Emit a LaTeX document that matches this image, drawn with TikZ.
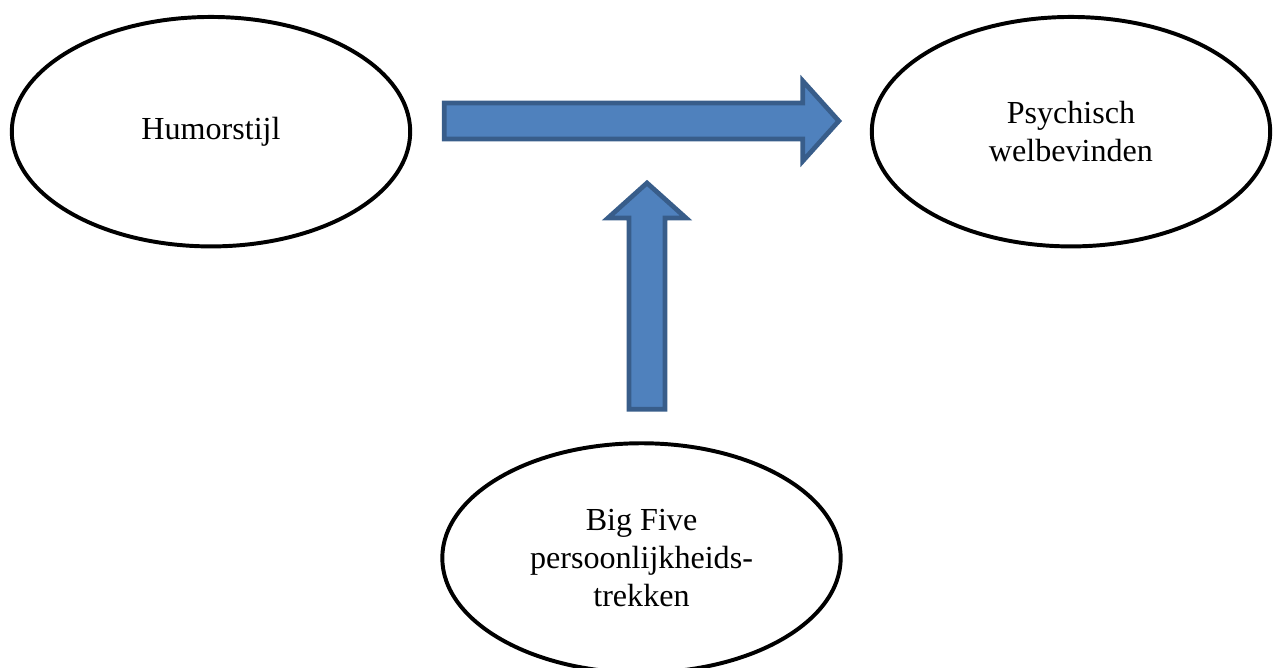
\documentclass[tikz,border=0pt]{standalone}
\usepackage{fontspec}
\setmainfont{Liberation Serif}
\usetikzlibrary{shapes.geometric,calc}

\begin{document}
\begin{tikzpicture}[x=0.38pt,y=-0.38pt,
        factor/.style={
        draw=black, line width=1.5pt,
        ellipse, inner sep=0pt,
        minimum width=151.4pt, minimum height=87.2pt,
        align=center, font=\fontsize{12.2}{14.3}\selectfont},
        blockarrow/.style={
        fill={rgb,255:red,79;green,129;blue,189},
        draw={rgb,255:red,56;green,93;blue,138},
        line width=1.8pt, line join=miter}]
        %frame
        \useasboundingbox (0,0) rectangle (1274,668);
        %ellipses
        \node[factor] (humor) at (211,131.7) {Humorstijl};
        \node[factor] (welzijn) at (1071,131.7) {Psychisch\\welbevinden};
        \node[factor] (bigfive) at (641.5,558) {Big Five\\persoonlijkheids-\\trekken};
        %arrow ends
        \coordinate (hbeg) at ($(humor.east)+(32,-10.7)$);
        \coordinate (hend) at ($(welzijn.west)+(-31,-10.7)$);
        \coordinate (vbeg) at ($(bigfive.north)+(5.5,-32)$);
        \coordinate (vend) at (647,183);
        %main effect
        \draw[blockarrow] ($(hbeg)+(0,-18)$) -- ($(hend)+(-36,-18)$)
            -- ($(hend)+(-36,-40)$) -- (hend) -- ($(hend)+(-36,40)$)
            -- ($(hend)+(-36,18)$) -- ($(hbeg)+(0,18)$) -- cycle;
        %moderator
        \draw[blockarrow] ($(vbeg)+(-18,0)$) -- ($(vend)+(-18,35)$)
            -- ($(vend)+(-39,35)$) -- (vend) -- ($(vend)+(39,35)$)
            -- ($(vend)+(18,35)$) -- ($(vbeg)+(18,0)$) -- cycle;
    \end{tikzpicture}
\end{document}
